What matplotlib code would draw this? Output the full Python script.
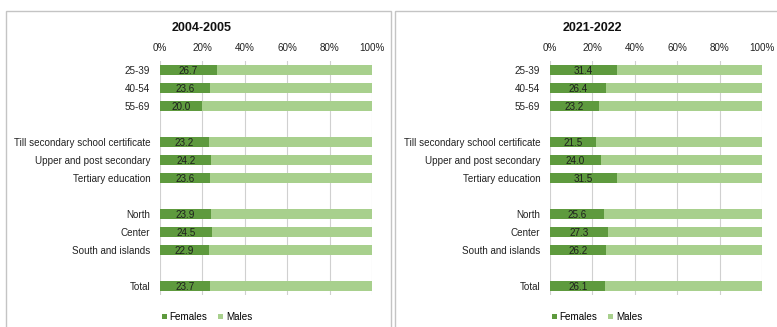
import matplotlib

matplotlib.use("Agg")
import matplotlib.pyplot as plt
from matplotlib.patches import Rectangle

plt.rcParams["font.family"] = ["Liberation Sans", "DejaVu Sans"]

# Categories (empty strings are the spacer rows of the original chart)
categories = [
    "25-39", "40-54", "55-69", "",
    "Till secondary school certificate", "Upper and post secondary", "Tertiary education", "",
    "North", "Center", "South and islands", "",
    "Total",
]
females_2004 = [26.7, 23.6, 20.0, None, 23.2, 24.2, 23.6, None, 23.9, 24.5, 22.9, None, 23.7]
females_2021 = [31.4, 26.4, 23.2, None, 21.5, 24.0, 31.5, None, 25.6, 27.3, 26.2, None, 26.1]
titles = ["2004-2005", "2021-2022"]
ticks = [0, 20, 40, 60, 80, 100]

DARK = "#5e9a3e"
LIGHT = "#a8d08d"
GRID = "#d0d0d0"
BORDER = "#c4c4c4"
FS = 7.1

W, H = 777, 327
fig = plt.figure(figsize=(W / 100, H / 100), dpi=100)


def px_axes(x0, x1, ytop, ybot):
    return fig.add_axes([x0 / W, (H - ybot) / H, (x1 - x0) / W, (ybot - ytop) / H])


# panel borders
for x0, x1 in [(6, 391), (395, 790)]:
    fig.patches.append(Rectangle((x0 / W, -0.1), (x1 - x0) / W, (H - 11) / H + 0.1,
                                 transform=fig.transFigure, fill=False,
                                 edgecolor=BORDER, linewidth=1.0))

for vals, title, x0 in zip([females_2004, females_2021], titles, [160, 550]):
    ax = px_axes(x0, x0 + 212, 61, 295)
    ypos = list(range(len(categories)))
    for y, v in zip(ypos, vals):
        if v is None:
            continue
        ax.barh(y, v, height=0.56, color=DARK, zorder=2,
                label="Females" if y == 0 else None)
        ax.barh(y, 100 - v, left=v, height=0.56, color=LIGHT, zorder=2,
                label="Males" if y == 0 else None)
        ax.text(v / 2, y + 0.05, f"{v:.1f}", ha="center", va="center",
                fontsize=FS, color="#1e1e1e", zorder=3)
    ax.set_ylim(len(categories) - 0.5, -0.5)
    ax.set_xlim(0, 100)
    ax.set_yticks(ypos)
    ax.set_yticklabels(categories)
    ax.set_xticks(ticks)
    ax.set_xticklabels([f"{t}%" for t in ticks])
    ax.xaxis.tick_top()
    ax.tick_params(axis="both", length=0, labelsize=FS, colors="#222222")
    ax.tick_params(axis="x", pad=6)
    ax.tick_params(axis="y", pad=7)
    ax.grid(axis="x", color=GRID, linewidth=0.8, zorder=0)
    ax.set_axisbelow(True)
    for s in ax.spines.values():
        s.set_visible(False)
    fig.text((x0 + 42) / W, 1 - 28 / H, title, ha="center", va="center",
             fontsize=9, fontweight="bold", color="#111111")
    ax.legend(loc="center", bbox_to_anchor=((x0 + 47) / W, 1 - 317 / H),
              bbox_transform=fig.transFigure, ncol=2, frameon=False,
              fontsize=FS, handlelength=0.5, handleheight=0.5,
              handletextpad=0.3, columnspacing=1.1)

fig.savefig("out.png", dpi=100)
